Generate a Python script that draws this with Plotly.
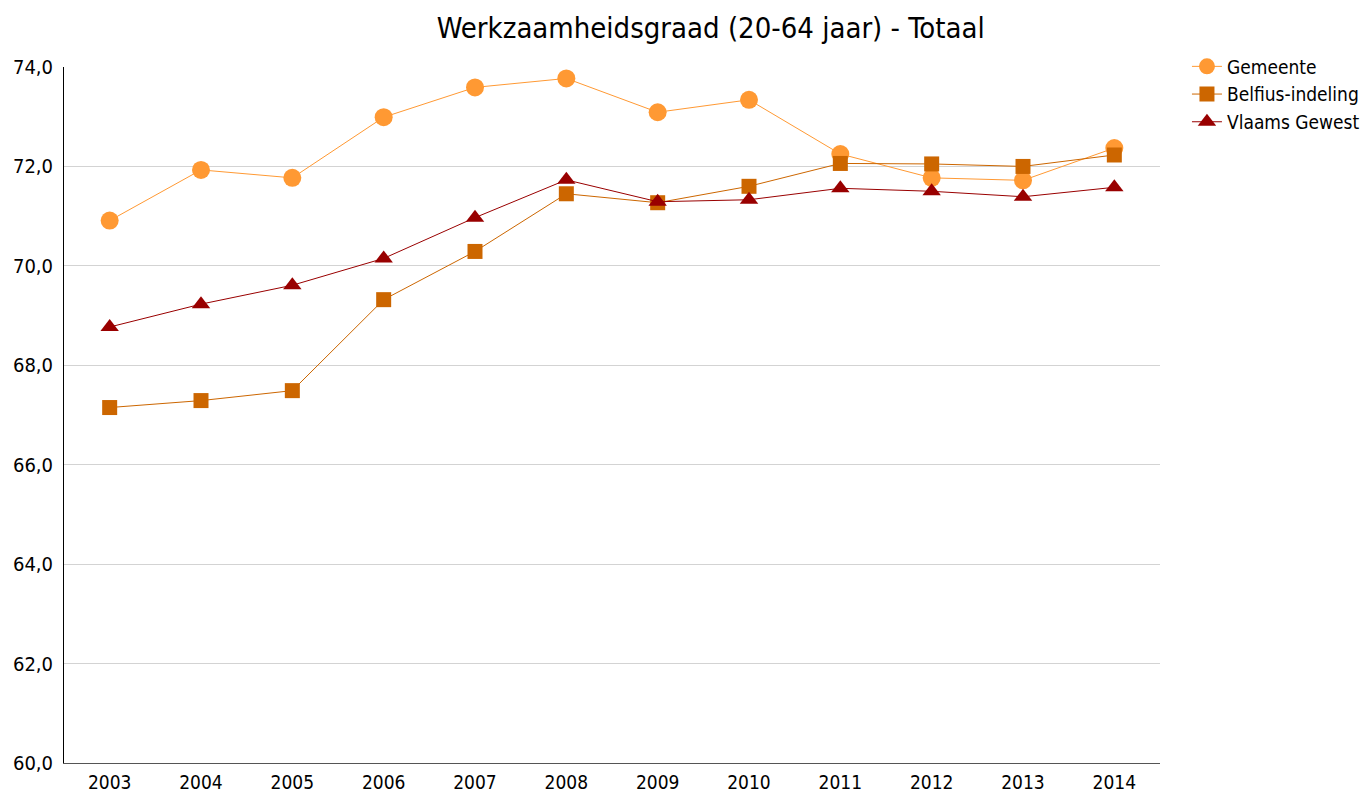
import plotly.graph_objects as go

jaren = ["2003", "2004", "2005", "2006", "2007", "2008",
         "2009", "2010", "2011", "2012", "2013", "2014"]
gemeente = [70.91, 71.93, 71.77, 72.99, 73.59, 73.77,
            73.09, 73.34, 72.25, 71.77, 71.72, 72.37]
belfius = [67.15, 67.29, 67.49, 69.32, 70.29, 71.45,
           71.27, 71.60, 72.06, 72.05, 72.00, 72.23]
vlaams = [68.77, 69.23, 69.61, 70.15, 70.97, 71.73,
          71.29, 71.33, 71.56, 71.50, 71.39, 71.58]
y_ticks = [60, 62, 64, 66, 68, 70, 72, 74]
y_labels = ["60,0", "62,0", "64,0", "66,0", "68,0", "70,0", "72,0", "74,0"]

FONT = "DejaVu Sans Condensed"

fig = go.Figure()
fig.add_trace(go.Scatter(
    x=jaren, y=gemeente, name="Gemeente", mode="lines+markers",
    line=dict(color="#FF9933", width=1),
    marker=dict(symbol="circle", size=18, color="#FF9933"),
))
fig.add_trace(go.Scatter(
    x=jaren, y=belfius, name="Belfius-indeling", mode="lines+markers",
    line=dict(color="#CC6600", width=1),
    marker=dict(symbol="square", size=15, color="#CC6600"),
))
fig.add_trace(go.Scatter(
    x=jaren, y=vlaams, name="Vlaams Gewest", mode="lines+markers",
    line=dict(color="#990000", width=1),
    marker=dict(symbol="triangle-up", size=16, color="#990000"),
))

fig.update_layout(
    width=1372, height=796,
    margin=dict(l=64, r=212, t=67, b=33, autoexpand=False),
    paper_bgcolor="white", plot_bgcolor="white",
    font=dict(family=FONT, size=20, color="#000000"),
    title=dict(text="Werkzaamheidsgraad (20-64 jaar) - Totaal",
               xref="container", x=0.518, xanchor="center",
               y=0.965, yanchor="middle",
               font=dict(family=FONT, size=29, color="#000000")),
    legend=dict(x=1.0246, y=1.028, xanchor="left", yanchor="top",
                font=dict(family=FONT, size=19, color="#000000"),
                tracegroupgap=0, bgcolor="rgba(0,0,0,0)"),
    showlegend=True,
)
fig.update_xaxes(
    type="category", range=[-0.5, 11.5], automargin=False,
    showgrid=False, showline=True, linecolor="#555555", linewidth=1,
    ticks="", ticklabelstandoff=2,
    tickfont=dict(family=FONT, size=19, color="#000000"),
)
fig.update_yaxes(
    range=[60, 74], tickvals=y_ticks, ticktext=y_labels, automargin=False,
    showgrid=True, gridcolor="#d3d3d3", gridwidth=1,
    showline=True, linecolor="#000000", linewidth=1,
    zeroline=False, ticks="", ticklabelstandoff=6,
    tickfont=dict(family=FONT, size=20, color="#000000"),
)

fig.write_html("out.html")
